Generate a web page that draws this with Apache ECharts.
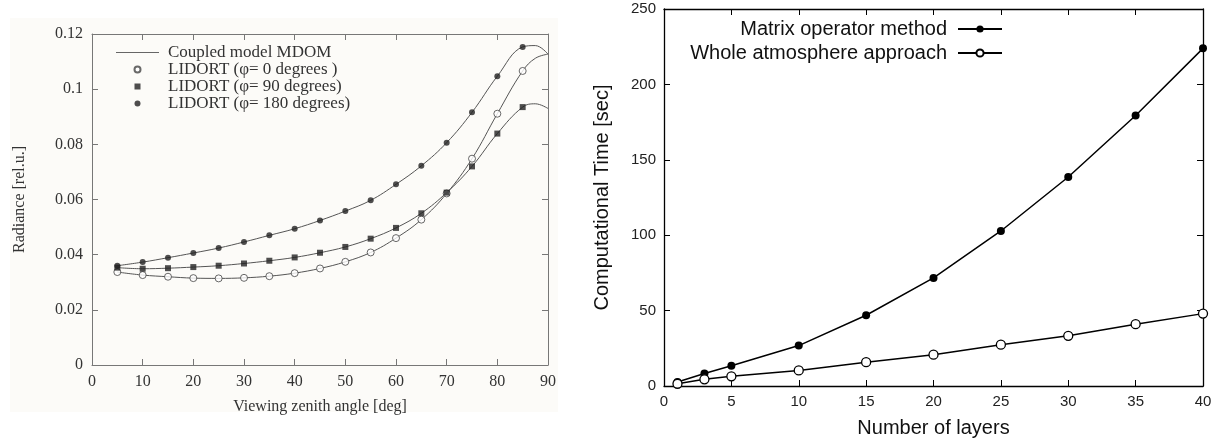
<!DOCTYPE html>
<html>
<head>
<meta charset="utf-8">
<script src="https://cdn.jsdelivr.net/npm/echarts@6/dist/echarts.min.js"></script>
<style>
  html, body { margin: 0; padding: 0; background: #fff; }
  #chart { width: 1222px; height: 443px; }
</style>
</head>
<body>
<div id="chart"></div>
<script>
// left panel: radiance vs viewing zenith angle
const angles = [5, 10, 15, 20, 25, 30, 35, 40, 45, 50, 55, 60, 65, 70, 75, 80, 85];
const lidort0 = [0.0337, 0.0326, 0.0320, 0.0315, 0.0314, 0.0316, 0.0322, 0.0333, 0.0350, 0.0374, 0.0408, 0.0460, 0.0527, 0.0622, 0.0748, 0.0911, 0.1066];
const lidort90 = [0.0353, 0.0349, 0.0351, 0.0355, 0.0360, 0.0368, 0.0378, 0.0390, 0.0407, 0.0428, 0.0458, 0.0497, 0.0550, 0.0625, 0.0720, 0.0839, 0.0935];
const lidort180 = [0.0360, 0.0373, 0.0389, 0.0406, 0.0424, 0.0446, 0.0470, 0.0494, 0.0524, 0.0558, 0.0597, 0.0655, 0.0722, 0.0806, 0.0916, 0.1047, 0.1153];

// model curves continue past the last LIDORT point up to 90 deg
const modelAngles = [5, 10, 15, 20, 25, 30, 35, 40, 45, 50, 55, 60, 65, 70, 75, 80, 85, 87.5, 90];
const model0 = [0.0337, 0.0326, 0.0320, 0.0315, 0.0314, 0.0316, 0.0322, 0.0333, 0.0350, 0.0374, 0.0408, 0.0460, 0.0527, 0.0622, 0.0748, 0.0911, 0.1066, 0.1112, 0.1127];
const model90 = [0.0353, 0.0349, 0.0351, 0.0355, 0.0360, 0.0368, 0.0378, 0.0390, 0.0407, 0.0428, 0.0458, 0.0497, 0.0550, 0.0625, 0.0720, 0.0839, 0.0935, 0.0947, 0.0930];
const model180 = [0.0360, 0.0373, 0.0389, 0.0406, 0.0424, 0.0446, 0.0470, 0.0494, 0.0524, 0.0558, 0.0597, 0.0655, 0.0722, 0.0806, 0.0916, 0.1047, 0.1153, 0.1158, 0.1127];

// right panel: computational time vs number of layers
const layers = [1, 3, 5, 10, 15, 20, 25, 30, 35, 40];
const matrixTime = [2.6, 8.3, 13.4, 26.8, 46.9, 71.7, 102.8, 138.6, 179.4, 223.9];
const wholeTime = [1.5, 4.4, 6.4, 10.3, 15.8, 20.8, 27.4, 33.3, 41.0, 48.0];

const serif = '"Liberation Serif", "DejaVu Serif", serif';
const sans = '"Liberation Sans", Arial, sans-serif';

const square = 'path://M0,0H10V10H0Z';

const pairs = (xs, ys) => xs.map((x, i) => [x, ys[i]]);

// one side of a boxed (gnuplot-like) frame
const frameAxis = (grid, position, min, max, interval, color, labels) => ({
  gridIndex: grid,
  type: 'value',
  position,
  min,
  max,
  interval,
  axisLine: { show: true, onZero: false, lineStyle: { color, width: color === '#000' ? 1.3 : 1 } },
  axisTick: { show: true, inside: true, length: 6, lineStyle: { color } },
  axisLabel: { show: !!labels, ...(labels || {}) },
  splitLine: { show: false }
});

const chart = echarts.init(document.getElementById('chart'));

const leftLabels = { color: '#333', fontFamily: serif, fontSize: 16, margin: 9 };
const rightLabels = { color: '#222', fontFamily: sans, fontSize: 15, margin: 8 };

const xLeft = frameAxis(0, 'bottom', 0, 90, 10, '#777', leftLabels);
xLeft.name = 'Viewing zenith angle [deg]';
xLeft.nameLocation = 'middle';
xLeft.nameGap = 34;
xLeft.nameTextStyle = { fontFamily: serif, fontSize: 16, color: '#333' };

const yLeft = frameAxis(0, 'left', 0, 0.12, 0.02, '#777', leftLabels);
yLeft.name = 'Radiance [rel.u.]';
yLeft.nameLocation = 'middle';
yLeft.nameGap = 64;
yLeft.nameTextStyle = { fontFamily: serif, fontSize: 16, color: '#333' };

const xRight = frameAxis(1, 'bottom', 0, 40, 5, '#000', rightLabels);
xRight.name = 'Number of layers';
xRight.nameLocation = 'middle';
xRight.nameGap = 32;
xRight.nameTextStyle = { fontFamily: sans, fontSize: 20, color: '#111' };

const yRight = frameAxis(1, 'left', 0, 250, 50, '#000', rightLabels);
yRight.name = 'Computational Time [sec]';
yRight.nameLocation = 'middle';
yRight.nameGap = 52;
yRight.nameTextStyle = { fontFamily: sans, fontSize: 20, color: '#111' };

const modelLine = (data) => ({
  type: 'line',
  name: 'Coupled model MDOM',
  xAxisIndex: 0,
  yAxisIndex: 0,
  data,
  smooth: 0.4,
  symbol: 'none',
  lineStyle: { color: '#555', width: 1 },
  itemStyle: { color: '#555' },
  z: 2
});

chart.setOption({
  animation: false,
  backgroundColor: '#fff',
  graphic: [{
    type: 'rect',
    shape: { x: 10, y: 18, width: 548, height: 394 },
    style: { fill: '#fcfbf8' },
    silent: true,
    z: -10
  }],
  grid: [
    { left: 92, right: 674, top: 34, bottom: 78 },
    { left: 664, right: 19, top: 9, bottom: 54 }
  ],
  legend: [
    {
      orient: 'vertical',
      left: 111,
      top: 39,
      itemWidth: 43,
      itemHeight: 6,
      itemGap: 0,
      symbolKeepAspect: true,
      textStyle: { fontFamily: serif, fontSize: 17, color: '#333', lineHeight: 16, padding: [0, 0, 0, 4] },
      data: [
        { name: 'Coupled model MDOM', icon: 'path://M0,0H43V1H0Z', itemStyle: { color: '#666' } },
        'LIDORT (φ= 0 degrees )',
        'LIDORT (φ= 90 degrees)',
        'LIDORT (φ= 180 degrees)'
      ]
    },
    {
      orient: 'vertical',
      align: 'right',
      right: 214,
      top: 14,
      itemWidth: 44,
      itemHeight: 9,
      itemGap: 4,
      textStyle: { fontFamily: sans, fontSize: 20, color: '#111', padding: [0, 6, 0, 0] },
      data: ['Matrix operator method', 'Whole atmosphere approach']
    }
  ],
  xAxis: [
    xLeft,
    frameAxis(0, 'top', 0, 90, 10, '#777'),
    xRight,
    frameAxis(1, 'top', 0, 40, 5, '#000')
  ],
  yAxis: [
    yLeft,
    frameAxis(0, 'right', 0, 0.12, 0.02, '#777'),
    yRight,
    frameAxis(1, 'right', 0, 250, 50, '#000')
  ],
  series: [
    modelLine(pairs(modelAngles, model0)),
    modelLine(pairs(modelAngles, model90)),
    modelLine(pairs(modelAngles, model180)),
    {
      type: 'scatter',
      name: 'LIDORT (φ= 0 degrees )',
      xAxisIndex: 0,
      yAxisIndex: 0,
      data: pairs(angles, lidort0),
      symbol: 'circle',
      symbolSize: 7,
      itemStyle: { color: '#fff', borderColor: '#444', borderWidth: 1 },
      z: 3
    },
    {
      type: 'scatter',
      name: 'LIDORT (φ= 90 degrees)',
      xAxisIndex: 0,
      yAxisIndex: 0,
      data: pairs(angles, lidort90),
      symbol: square,
      symbolKeepAspect: true,
      symbolSize: 6,
      itemStyle: { color: '#222' },
      z: 3
    },
    {
      type: 'scatter',
      name: 'LIDORT (φ= 180 degrees)',
      xAxisIndex: 0,
      yAxisIndex: 0,
      data: pairs(angles, lidort180),
      symbol: 'circle',
      symbolSize: 6,
      itemStyle: { color: '#222' },
      z: 3
    },
    {
      type: 'line',
      name: 'Matrix operator method',
      xAxisIndex: 2,
      yAxisIndex: 2,
      data: pairs(layers, matrixTime),
      symbol: 'circle',
      symbolSize: 8,
      showAllSymbol: true,
      lineStyle: { color: '#000', width: 1.5 },
      itemStyle: { color: '#000' }
    },
    {
      type: 'line',
      name: 'Whole atmosphere approach',
      xAxisIndex: 2,
      yAxisIndex: 2,
      data: pairs(layers, wholeTime),
      symbol: 'circle',
      symbolSize: 9,
      showAllSymbol: true,
      lineStyle: { color: '#000', width: 1.5 },
      itemStyle: { color: '#fff', borderColor: '#000', borderWidth: 1.3 }
    }
  ]
});
</script>
</body>
</html>
